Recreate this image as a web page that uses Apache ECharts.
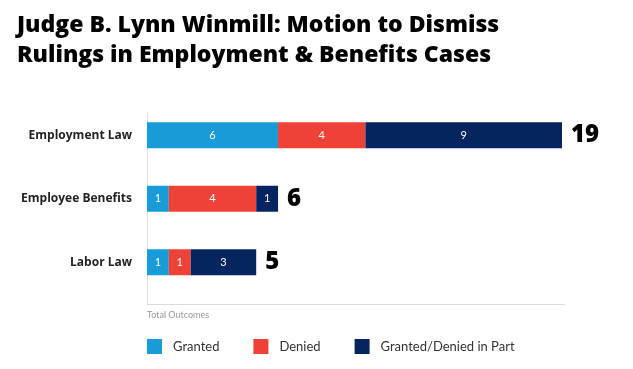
<!DOCTYPE html>
<html>
<head>
<meta charset="utf-8">
<script src="https://cdn.jsdelivr.net/npm/echarts@6/dist/echarts.min.js"></script>
<style>html,body{margin:0;padding:0;background:#fff;}#c{width:633px;height:369px;}</style>
</head>
<body>
<div id="c"></div>
<script>
const categories = ['Employment Law', 'Employee Benefits', 'Labor Law'];
const granted = [6, 1, 1];
const denied = [4, 4, 1];
const partial = [9, 1, 3];
const totals = [19, 6, 5];
const seriesNames = ['Granted', 'Denied', 'Granted/Denied in Part'];
const colors = ['#189bd7', '#ee4237', '#06245f'];

const FONT = 'Lato';
const HEAD = 'Open Sans';
const chart = echarts.init(document.getElementById('c'));
const segLabel = { show: true, color: '#fff', fontSize: 11, fontFamily: FONT };
chart.setOption({
  animation: false,
  title: {
    text: 'Judge B. Lynn Winmill: Motion to Dismiss\nRulings in Employment & Benefits Cases',
    left: 17, top: 10, padding: 0,
    textStyle: { fontFamily: HEAD, fontWeight: 800, fontSize: 23, lineHeight: 30, color: '#000' }
  },
  legend: {
    data: seriesNames,
    left: 147, top: 339, padding: 0,
    itemWidth: 15, itemHeight: 15, itemGap: 34,
    icon: 'rect',
    textStyle: { fontFamily: FONT, fontSize: 13, color: '#333', padding: [0, 0, 0, 6] }
  },
  grid: { left: 147, right: 71, top: 103.5, height: 190.5 },
  xAxis: {
    type: 'value', min: 0, max: 19,
    axisLine: { show: false }, axisTick: { show: false },
    axisLabel: { show: false }, splitLine: { show: false }
  },
  yAxis: {
    type: 'category', data: categories, inverse: true,
    axisLine: { show: false }, axisTick: { show: false },
    axisLabel: { fontFamily: HEAD, fontWeight: 'bold', fontSize: 12, color: '#222', margin: 15 }
  },
  series: [
    { name: seriesNames[0], type: 'bar', stack: 's', data: granted, barWidth: 26, itemStyle: { color: colors[0] }, label: segLabel },
    { name: seriesNames[1], type: 'bar', stack: 's', data: denied, barWidth: 26, itemStyle: { color: colors[1] }, label: segLabel },
    { name: seriesNames[2], type: 'bar', stack: 's', data: partial, barWidth: 26, itemStyle: { color: colors[2] }, label: segLabel },
    { name: 'Total', type: 'bar', data: totals, barWidth: 26, barGap: '-100%', silent: true,
      itemStyle: { color: 'rgba(0,0,0,0)' },
      label: { show: true, position: 'right', distance: 9, fontFamily: HEAD, fontWeight: 800, fontSize: 24, color: '#000' } }
  ],
  graphic: [
    { type: 'line', shape: { x1: 147.5, y1: 113, x2: 147.5, y2: 304 }, style: { stroke: '#dcdcdc', lineWidth: 1 } },
    { type: 'line', shape: { x1: 147, y1: 304.5, x2: 565, y2: 304.5 }, style: { stroke: '#dcdcdc', lineWidth: 1 } },
    { type: 'text', left: 147, top: 311, style: { text: 'Total Outcomes', fontFamily: FONT, fontSize: 9, fill: '#999' } }
  ]
});
</script>
</body>
</html>
